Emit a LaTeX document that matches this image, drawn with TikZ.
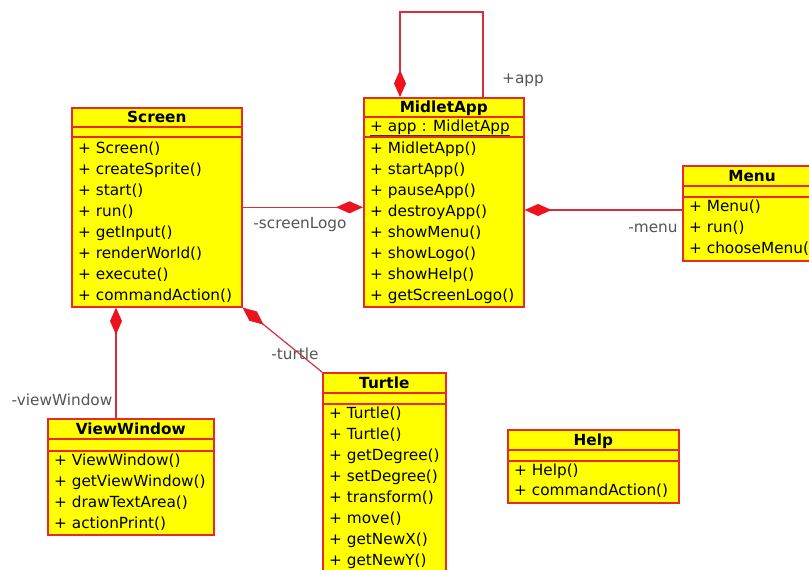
\documentclass[tikz,border=0pt]{standalone}
\usepackage{fontspec}
\setmainfont{DejaVu Sans}
\usetikzlibrary{arrows.meta,calc}
\definecolor{umlfill}{RGB}{255,255,0}
\definecolor{umlline}{RGB}{235,40,40}
\definecolor{connline}{RGB}{215,45,60}
\definecolor{diafill}{RGB}{235,20,30}
\definecolor{lblgray}{RGB}{85,85,85}
\newcommand\dfont{\fontsize{15.3pt}{18pt}\selectfont}
\tikzset{
  classbox/.style={draw=umlline, fill=umlfill, line width=1.6pt, inner sep=0pt, anchor=north west},
  sepline/.style={draw=umlline, line width=1.6pt},
  titletext/.style={font=\dfont\bfseries, inner sep=0pt, text height=11pt, text depth=0pt},
  optext/.style={font=\dfont, anchor=west, inner sep=0pt, text height=11pt, text depth=0pt},
  lbl/.style={font=\dfont, text=lblgray, inner sep=0pt, text height=11pt, text depth=0pt},
  comp/.style={draw=connline, line width=1.2pt, {Diamond[length=27pt,width=12pt,fill=diafill,color=diafill]}-},
}
\begin{document}
\begin{tikzpicture}[x=1pt,y=-1pt]
\useasboundingbox (0,0) rectangle (809,570);
\fill[white] (0,0) rectangle (809,570);

% ---------- Screen ----------
\node[classbox, minimum width=170pt, minimum height=199pt] (screen) at (71,107) {};
\draw[sepline] ($(screen.north west)+(0,20)$) -- ($(screen.north east)+(0,20)$);
\draw[sepline] ($(screen.north west)+(0,30)$) -- ($(screen.north east)+(0,30)$);
\node[titletext] (screen-t) at ($(screen.north)+(0,10)$) {Screen};
\foreach \m [count=\i] in {Screen(),createSprite(),start(),run(),getInput(),renderWorld(),execute(),commandAction()}
  \node[optext] (screen-m\i) at ($(screen.north west)+(7,41+21*\i-21)$) {+ \m};

% ---------- MidletApp ----------
\node[classbox, minimum width=160pt, minimum height=209pt] (midlet) at (363,97) {};
\draw[sepline] ($(midlet.north west)+(0,20)$) -- ($(midlet.north east)+(0,20)$);
\draw[sepline] ($(midlet.north west)+(0,40)$) -- ($(midlet.north east)+(0,40)$);
\node[titletext] (midlet-t) at ($(midlet.north)+(0,10)$) {MidletApp};
\node[optext] (midlet-a1) at ($(midlet.north west)+(7,29)$) {+ app : MidletApp};
\draw[line width=1.1pt, black!80] ($(midlet-a1.south west)+(0,3.5)$) -- ($(midlet-a1.south east)+(0,3.5)$);
\foreach \m [count=\i] in {MidletApp(),startApp(),pauseApp(),destroyApp(),showMenu(),showLogo(),showHelp(),getScreenLogo()}
  \node[optext] (midlet-m\i) at ($(midlet.north west)+(7,51+21*\i-21)$) {+ \m};

% ---------- Menu ----------
\node[classbox, minimum width=200pt, minimum height=95pt] (menu) at (682,165) {};
\draw[sepline] ($(menu.north west)+(0,21)$) -- ($(menu.north east)+(0,21)$);
\draw[sepline] ($(menu.north west)+(0,32)$) -- ($(menu.north east)+(0,32)$);
\node[titletext] (menu-t) at ($(menu.north west)+(70,10.5)$) {Menu};
\foreach \m [count=\i] in {Menu(),run(),chooseMenu()}
  \node[optext] (menu-m\i) at ($(menu.north west)+(7,41+21*\i-21)$) {+ \m};

% ---------- ViewWindow ----------
\node[classbox, minimum width=166pt, minimum height=116pt] (viewwindow) at (47,418) {};
\draw[sepline] ($(viewwindow.north west)+(0,21)$) -- ($(viewwindow.north east)+(0,21)$);
\draw[sepline] ($(viewwindow.north west)+(0,33)$) -- ($(viewwindow.north east)+(0,33)$);
\node[titletext] (viewwindow-t) at ($(viewwindow.north)+(0,10.5)$) {ViewWindow};
\foreach \m [count=\i] in {ViewWindow(),getViewWindow(),drawTextArea(),actionPrint()}
  \node[optext] (viewwindow-m\i) at ($(viewwindow.north west)+(7,42+21*\i-21)$) {+ \m};

% ---------- Turtle ----------
\node[classbox, minimum width=123pt, minimum height=218pt] (turtle) at (322,372) {};
\draw[sepline] ($(turtle.north west)+(0,21)$) -- ($(turtle.north east)+(0,21)$);
\draw[sepline] ($(turtle.north west)+(0,32)$) -- ($(turtle.north east)+(0,32)$);
\node[titletext] (turtle-t) at ($(turtle.north)+(0,10.5)$) {Turtle};
\foreach \m [count=\i] in {Turtle(),Turtle(),getDegree(),setDegree(),transform(),move(),getNewX(),getNewY()}
  \node[optext] (turtle-m\i) at ($(turtle.north west)+(7,41+21*\i-21)$) {+ \m};

% ---------- Help ----------
\node[classbox, minimum width=171pt, minimum height=73pt] (help) at (507,429) {};
\draw[sepline] ($(help.north west)+(0,21)$) -- ($(help.north east)+(0,21)$);
\draw[sepline] ($(help.north west)+(0,32)$) -- ($(help.north east)+(0,32)$);
\node[titletext] (help-t) at ($(help.north)+(0,10.5)$) {Help};
\foreach \m [count=\i] in {Help(),commandAction()}
  \node[optext] (help-m\i) at ($(help.north west)+(7,41+20*\i-20)$) {+ \m};

% ---------- connectors ----------
\draw[comp] (midlet.west |- screen.east) -- (screen.east);
\coordinate (menuc) at ($(menu.north west)+(0,45)$);
\draw[comp] (midlet.east |- menuc) -- (menuc);
\coordinate (vwc) at ($(viewwindow.north west)+(69,0)$);
\draw[comp] (screen.south -| vwc) -- (vwc);
\draw[comp] (screen.south east) -- (turtle.north west);
\coordinate (loopa) at ($(midlet.north west)+(37,0)$);
\coordinate (loopb) at ($(midlet.north west)+(120,0)$);
\draw[comp] (loopa) -- ++(0,-85) -| (loopb);

% ---------- labels ----------
\node[lbl] (lbl-screenlogo) at (300,223) {-screenLogo};
\node[lbl] (lbl-menu) at (653,227) {-menu};
\node[lbl] (lbl-app) at (523,78) {+app};
\node[lbl] (lbl-viewwindow) at (62,400) {-viewWindow};
\node[lbl] (lbl-turtle) at (295,354) {-turtle};
\end{tikzpicture}
\end{document}
